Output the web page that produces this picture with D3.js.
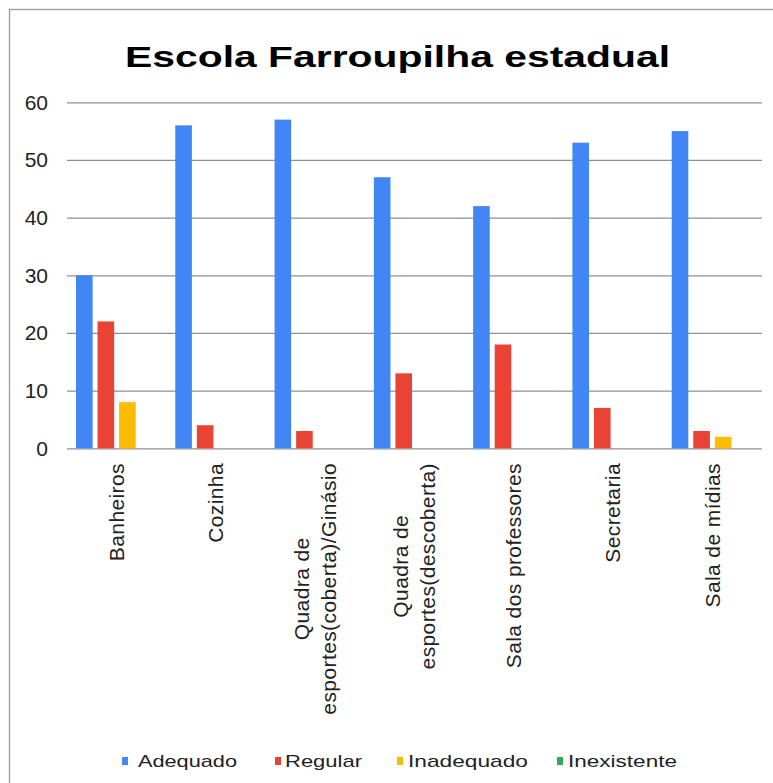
<!DOCTYPE html>
<html>
<head>
<meta charset="utf-8">
<script src="https://cdn.jsdelivr.net/npm/d3@7"></script>
<style>
  body { margin: 0; background: #fff; }
  svg { display: block; font-family: "Liberation Sans", Arial, sans-serif; }
</style>
</head>
<body>
<div class="chart"></div>
<script>
// chart values
var categories = ["Banheiros", "Cozinha", "Quadra de esportes(coberta)/Ginásio",
  "Quadra de esportes(descoberta)", "Sala dos professores", "Secretaria", "Sala de mídias"];
var tickLabels = [["Banheiros"], ["Cozinha"], ["Quadra de", "esportes(coberta)/Ginásio"],
  ["Quadra de", "esportes(descoberta)"], ["Sala dos professores"], ["Secretaria"], ["Sala de mídias"]];
var seriesNames = ["Adequado", "Regular", "Inadequado", "Inexistente"];
var adequado = [30, 56, 57, 47, 42, 53, 55];
var regular = [22, 4, 3, 13, 18, 7, 3];
var inadequado = [8, 0, 0, 0, 0, 0, 2];
var inexistente = [0, 0, 0, 0, 0, 0, 0];
var yTicks = [0, 10, 20, 30, 40, 50, 60];
var colors = ["#4285F4", "#EA4335", "#FBBC04", "#34A853"];
var titleText = "Escola Farroupilha estadual";

var values = { width: 773, height: 783, left: 67, right: 762, top: 102.3, bottom: 448.3 };
var series = [adequado, regular, inadequado, inexistente];

var svg = d3.select(".chart").append("svg")
  .attr("width", values.width)
  .attr("height", values.height);

// frame round the chart
svg.append("path")
  .attr("d", "M9.5," + values.height + "V9.5H" + values.width)
  .attr("fill", "none")
  .attr("stroke", "#a3a3a3")
  .attr("stroke-width", 1.4);

// title (stretched wide like the picture)
svg.append("text")
  .attr("x", 125)
  .attr("y", 67)
  .attr("font-size", 30)
  .attr("font-weight", "bold")
  .attr("textLength", 545)
  .attr("lengthAdjust", "spacingAndGlyphs")
  .attr("fill", "#000")
  .text(titleText);

var y = d3.scaleLinear().domain([0, 60]).range([values.bottom, values.top]);
var x0 = d3.scaleBand().domain(categories).range([values.left, values.right]);
var x1 = d3.scaleBand().domain(seriesNames).range([9, x0.bandwidth() - 9]).paddingInner(0.23);

// y axis + grid
var yAxis = svg.append("g")
  .attr("transform", "translate(" + values.left + ",0)")
  .call(d3.axisLeft(y).tickValues(yTicks).tickSize(-(values.right - values.left)).tickPadding(19));
yAxis.select(".domain").remove();
yAxis.selectAll(".tick line").attr("stroke", "#8f8f8f").attr("stroke-width", 1.2);
yAxis.selectAll(".tick text")
  .attr("font-size", 21)
  .attr("fill", "#222")
  .attr("font-family", "'Liberation Sans', Arial, sans-serif");

// bars
categories.forEach(function (c, i) {
  svg.append("g")
    .attr("transform", "translate(" + x0(c) + ",0)")
    .selectAll("rect")
    .data(series.map(function (s, k) { return { name: seriesNames[k], v: s[i], k: k }; })
      .filter(function (d) { return d.v > 0; }))
    .enter()
    .append("rect")
    .attr("x", function (d) { return x1(d.name); })
    .attr("width", x1.bandwidth())
    .attr("y", function (d) { return y(d.v); })
    .attr("height", function (d) { return y(0) - y(d.v); })
    .attr("fill", function (d) { return colors[d.k]; });
});

// rotated category labels, lines centred on each other, block starts under the axis
var labelTop = 463;
categories.forEach(function (c, i) {
  var lines = tickLabels[i];
  var cx = x0(c) + x0.bandwidth() / 2;
  var g = svg.append("g").attr("transform", "translate(" + cx + "," + labelTop + ") rotate(-90)");
  var texts = g.selectAll("text").data(lines).enter().append("text")
    .attr("font-size", 21)
    .attr("fill", "#222")
    .attr("letter-spacing", 0.4)
    .attr("text-anchor", "middle")
    .attr("dy", "0.35em")
    .attr("y", function (d, j) { return (j - (lines.length - 1) / 2) * 27; })
    .text(function (d) { return d; });
  var maxLen = d3.max(texts.nodes(), function (n) { return n.getComputedTextLength(); });
  texts.attr("x", -maxLen / 2);
});

// legend
var legendSquares = [122, 275, 397, 557];
var legendTextX = [138, 285, 408, 568];
var legendTextW = [99, 77, 120, 109];
seriesNames.forEach(function (name, k) {
  svg.append("rect")
    .attr("x", legendSquares[k])
    .attr("y", 757)
    .attr("width", 6)
    .attr("height", 8)
    .attr("fill", colors[k]);
  svg.append("text")
    .attr("x", legendTextX[k])
    .attr("y", 767)
    .attr("font-size", 17)
    .attr("fill", "#222")
    .attr("textLength", legendTextW[k])
    .attr("lengthAdjust", "spacingAndGlyphs")
    .text(name);
});
</script>
</body>
</html>
